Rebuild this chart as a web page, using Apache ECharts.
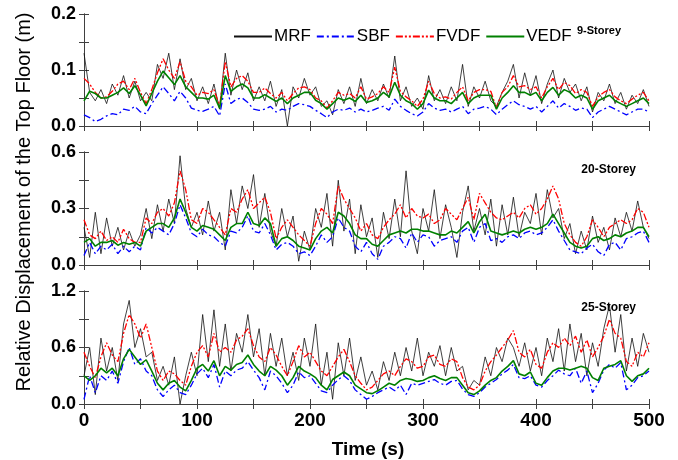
<!DOCTYPE html>
<html>
<head>
<meta charset="utf-8">
<script src="https://cdn.jsdelivr.net/npm/echarts@6/dist/echarts.min.js"></script>
<style>
  html, body { margin: 0; padding: 0; background: #fff; }
  #chart { width: 678px; height: 460px; }
</style>
</head>
<body>
<div id="chart"></div>
<script>
// sample times (s)
const times = [0,5,10,15,20,25,30,35,40,45,50,55,60,65,70,75,80,85,90,95,
  100,105,110,115,120,125,130,135,140,145,150,155,160,165,170,175,180,185,190,195,
  200,205,210,215,220,225,230,235,240,245,250,255,260,265,270,275,280,285,290,295,
  300,305,310,315,320,325,330,335,340,345,350,355,360,365,370,375,380,385,390,395,
  400,405,410,415,420,425,430,435,440,445,450,455,460,465,470,475,480,485,490,495,500];

// 9-Storey
const mrf9 = [0.130,0.060,0.045,0.065,0.040,0.075,0.055,0.090,0.050,0.080,0.045,0.060,0.045,0.110,0.085,0.130,0.065,0.120,0.065,0.085,
  0.045,0.070,0.040,0.075,0.030,0.130,0.055,0.100,0.065,0.095,0.045,0.070,0.045,0.080,0.035,0.065,0.000,0.070,0.050,0.085,
  0.055,0.070,0.035,0.045,0.020,0.065,0.040,0.070,0.035,0.085,0.040,0.065,0.045,0.075,0.050,0.125,0.045,0.070,0.035,0.050,
  0.030,0.090,0.045,0.065,0.040,0.070,0.045,0.110,0.035,0.070,0.050,0.080,0.045,0.035,0.060,0.080,0.110,0.050,0.095,0.055,
  0.090,0.040,0.075,0.100,0.050,0.085,0.060,0.075,0.045,0.070,0.025,0.060,0.045,0.075,0.040,0.060,0.030,0.055,0.040,0.065,0.035];
const sbf9 = [0.020,0.015,0.008,0.012,0.018,0.022,0.020,0.030,0.028,0.035,0.025,0.022,0.040,0.055,0.070,0.058,0.045,0.062,0.050,0.032,
  0.028,0.026,0.030,0.035,0.018,0.075,0.040,0.048,0.050,0.042,0.030,0.028,0.030,0.035,0.025,0.030,0.028,0.035,0.040,0.038,
  0.035,0.028,0.022,0.015,0.025,0.030,0.028,0.032,0.025,0.030,0.025,0.028,0.032,0.035,0.028,0.048,0.035,0.028,0.022,0.018,
  0.025,0.040,0.032,0.028,0.030,0.025,0.030,0.035,0.022,0.030,0.032,0.035,0.030,0.020,0.030,0.038,0.045,0.038,0.035,0.030,
  0.035,0.025,0.035,0.045,0.032,0.040,0.035,0.028,0.032,0.030,0.015,0.025,0.030,0.035,0.030,0.025,0.020,0.025,0.030,0.030,0.025];
const fvdf9 = [0.085,0.075,0.060,0.050,0.052,0.062,0.075,0.080,0.065,0.085,0.060,0.040,0.065,0.095,0.120,0.100,0.085,0.115,0.080,0.070,
  0.055,0.060,0.058,0.065,0.035,0.115,0.070,0.085,0.090,0.080,0.060,0.060,0.068,0.058,0.050,0.060,0.045,0.058,0.068,0.070,
  0.065,0.050,0.045,0.032,0.045,0.060,0.055,0.058,0.050,0.070,0.048,0.052,0.058,0.070,0.060,0.105,0.062,0.052,0.045,0.035,
  0.048,0.080,0.058,0.050,0.052,0.048,0.060,0.070,0.045,0.060,0.065,0.065,0.062,0.032,0.060,0.070,0.090,0.070,0.072,0.065,
  0.070,0.050,0.070,0.085,0.065,0.078,0.072,0.058,0.065,0.060,0.035,0.052,0.060,0.065,0.052,0.045,0.040,0.048,0.055,0.060,0.045];
const vedf9 = [0.045,0.062,0.058,0.050,0.050,0.055,0.060,0.068,0.058,0.072,0.055,0.036,0.058,0.080,0.098,0.086,0.074,0.090,0.070,0.060,
  0.050,0.050,0.048,0.055,0.032,0.090,0.062,0.070,0.075,0.068,0.050,0.050,0.056,0.050,0.044,0.050,0.040,0.050,0.055,0.060,
  0.060,0.046,0.040,0.030,0.040,0.050,0.046,0.050,0.044,0.055,0.042,0.045,0.050,0.060,0.052,0.078,0.055,0.045,0.040,0.030,
  0.040,0.064,0.050,0.045,0.045,0.040,0.050,0.060,0.040,0.050,0.055,0.055,0.055,0.030,0.050,0.060,0.072,0.060,0.060,0.055,
  0.060,0.045,0.060,0.069,0.055,0.065,0.060,0.050,0.055,0.050,0.030,0.045,0.050,0.055,0.045,0.040,0.035,0.040,0.045,0.050,0.040];

// 20-Storey
const mrf20 = [0.20,0.04,0.28,0.06,0.25,0.10,0.20,0.08,0.18,0.10,0.16,0.30,0.14,0.32,0.18,0.35,0.22,0.58,0.30,0.20,
  0.28,0.16,0.34,0.18,0.28,0.08,0.40,0.22,0.42,0.30,0.48,0.20,0.38,0.18,0.10,0.30,0.15,0.26,0.02,0.18,
  0.08,0.30,0.20,0.38,0.10,0.45,0.18,0.35,0.06,0.32,0.15,0.25,0.04,0.28,0.14,0.35,0.15,0.50,0.18,0.06,
  0.30,0.18,0.40,0.14,0.32,0.20,0.04,0.28,0.42,0.18,0.30,0.16,0.35,0.10,0.32,0.16,0.36,0.15,0.28,0.22,
  0.38,0.16,0.40,0.25,0.30,0.14,0.22,0.06,0.18,0.08,0.26,0.12,0.20,0.08,0.25,0.15,0.28,0.18,0.34,0.20,0.14];
const sbf20 = [0.05,0.12,0.06,0.10,0.08,0.11,0.06,0.10,0.07,0.10,0.08,0.20,0.17,0.20,0.18,0.16,0.22,0.32,0.25,0.17,
  0.15,0.19,0.16,0.15,0.12,0.10,0.18,0.17,0.20,0.26,0.18,0.17,0.22,0.16,0.08,0.11,0.12,0.10,0.06,0.07,
  0.05,0.10,0.16,0.12,0.15,0.25,0.20,0.18,0.10,0.07,0.12,0.06,0.03,0.10,0.12,0.15,0.14,0.09,0.17,0.12,
  0.16,0.15,0.10,0.13,0.14,0.15,0.12,0.18,0.20,0.12,0.20,0.22,0.13,0.14,0.12,0.15,0.16,0.14,0.17,0.18,
  0.16,0.17,0.20,0.24,0.18,0.13,0.08,0.07,0.06,0.09,0.11,0.07,0.05,0.11,0.12,0.08,0.14,0.15,0.17,0.18,0.12];
const fvdf20 = [0.24,0.16,0.14,0.18,0.13,0.15,0.12,0.19,0.14,0.12,0.12,0.25,0.22,0.28,0.30,0.26,0.33,0.50,0.40,0.24,
  0.22,0.30,0.28,0.24,0.20,0.16,0.30,0.28,0.35,0.40,0.30,0.33,0.36,0.28,0.14,0.20,0.24,0.20,0.16,0.13,
  0.10,0.22,0.30,0.27,0.22,0.42,0.35,0.30,0.25,0.18,0.22,0.16,0.14,0.20,0.24,0.27,0.32,0.25,0.30,0.26,
  0.25,0.27,0.22,0.24,0.30,0.27,0.24,0.30,0.36,0.24,0.38,0.33,0.28,0.25,0.24,0.26,0.28,0.25,0.30,0.32,
  0.27,0.30,0.35,0.42,0.35,0.22,0.16,0.12,0.10,0.15,0.24,0.20,0.15,0.20,0.22,0.24,0.22,0.24,0.30,0.28,0.20];
const vedf20 = [0.12,0.14,0.10,0.12,0.12,0.13,0.105,0.12,0.11,0.12,0.10,0.18,0.20,0.22,0.22,0.20,0.25,0.35,0.28,0.20,
  0.18,0.21,0.20,0.19,0.16,0.13,0.20,0.22,0.22,0.28,0.22,0.21,0.25,0.22,0.10,0.14,0.15,0.13,0.10,0.09,
  0.08,0.14,0.18,0.20,0.17,0.28,0.26,0.22,0.16,0.14,0.14,0.11,0.10,0.13,0.16,0.17,0.18,0.17,0.19,0.19,
  0.18,0.18,0.17,0.16,0.16,0.18,0.17,0.20,0.23,0.17,0.23,0.27,0.18,0.17,0.16,0.17,0.18,0.17,0.19,0.20,
  0.19,0.20,0.22,0.27,0.22,0.17,0.12,0.10,0.09,0.10,0.14,0.15,0.13,0.14,0.16,0.15,0.17,0.18,0.20,0.20,0.15];

// 25-Storey
const mrf25 = [0.30,0.60,0.10,0.70,0.35,0.60,0.25,0.85,1.10,0.60,0.80,0.50,0.55,0.25,0.40,0.20,0.50,0.00,0.30,0.55,
  0.30,0.95,0.45,1.00,0.40,0.85,0.35,0.75,0.55,0.95,0.50,0.80,0.30,0.75,0.40,0.70,0.30,0.55,0.25,0.70,
  0.40,0.85,0.20,0.55,0.05,0.65,0.30,0.70,0.25,0.50,0.20,0.35,0.15,0.45,0.25,0.55,0.30,0.60,0.35,0.70,
  0.30,0.55,0.40,0.62,0.30,0.60,0.35,0.40,0.15,0.25,0.20,0.50,0.30,0.60,0.45,0.70,0.60,0.40,0.65,0.35,
  0.60,0.30,0.70,0.45,0.80,0.35,0.85,0.45,0.75,0.30,0.65,0.40,0.80,1.05,0.55,0.95,0.35,0.70,0.40,0.75,0.55];
const sbf25 = [0.05,0.30,0.12,0.30,0.25,0.35,0.22,0.45,0.60,0.42,0.48,0.35,0.30,0.15,0.08,0.15,0.20,0.12,0.10,0.20,
  0.32,0.38,0.28,0.42,0.18,0.35,0.30,0.36,0.38,0.45,0.36,0.28,0.15,0.35,0.30,0.22,0.12,0.20,0.34,0.28,
  0.30,0.22,0.14,0.12,0.20,0.26,0.30,0.25,0.15,0.10,0.05,0.08,0.12,0.15,0.18,0.14,0.20,0.10,0.22,0.20,
  0.22,0.24,0.26,0.22,0.20,0.24,0.25,0.16,0.10,0.08,0.12,0.18,0.22,0.26,0.32,0.36,0.42,0.28,0.27,0.30,
  0.20,0.18,0.25,0.30,0.36,0.32,0.30,0.38,0.22,0.35,0.12,0.22,0.36,0.42,0.38,0.44,0.15,0.20,0.28,0.30,0.35];
const fvdf25 = [0.55,0.40,0.28,0.50,0.65,0.52,0.45,0.75,0.95,0.85,0.70,0.85,0.60,0.35,0.25,0.35,0.32,0.25,0.20,0.40,
  0.55,0.62,0.50,0.75,0.55,0.60,0.55,0.68,0.72,0.80,0.62,0.50,0.45,0.60,0.52,0.40,0.30,0.45,0.62,0.50,
  0.55,0.45,0.35,0.30,0.40,0.50,0.58,0.45,0.30,0.22,0.15,0.18,0.25,0.32,0.35,0.30,0.40,0.48,0.45,0.38,
  0.40,0.50,0.52,0.42,0.40,0.48,0.45,0.28,0.18,0.15,0.20,0.35,0.45,0.52,0.60,0.68,0.78,0.55,0.50,0.58,
  0.42,0.38,0.55,0.65,0.60,0.70,0.62,0.72,0.55,0.68,0.50,0.60,0.72,0.90,0.75,0.70,0.45,0.40,0.55,0.50,0.65];
const vedf25 = [0.30,0.25,0.30,0.38,0.33,0.38,0.30,0.48,0.58,0.50,0.42,0.47,0.35,0.22,0.15,0.22,0.25,0.18,0.14,0.25,
  0.38,0.42,0.35,0.46,0.30,0.40,0.36,0.42,0.44,0.52,0.42,0.35,0.30,0.40,0.36,0.30,0.20,0.28,0.40,0.35,
  0.32,0.28,0.20,0.15,0.26,0.30,0.34,0.30,0.20,0.16,0.12,0.11,0.14,0.18,0.22,0.20,0.25,0.27,0.26,0.24,
  0.25,0.28,0.30,0.27,0.25,0.28,0.28,0.20,0.12,0.10,0.14,0.20,0.25,0.28,0.35,0.40,0.46,0.32,0.30,0.34,
  0.22,0.20,0.28,0.35,0.38,0.38,0.36,0.38,0.40,0.38,0.28,0.25,0.38,0.40,0.42,0.46,0.30,0.24,0.30,0.32,0.38];

const seriesNames = ['MRF', 'SBF', 'FVDF', 'VEDF'];
const panels = [
  { label: '9-Storey', max: 0.2, data: [mrf9, sbf9, fvdf9, vedf9] },
  { label: '20-Storey', max: 0.6, data: [mrf20, sbf20, fvdf20, vedf20] },
  { label: '25-Storey', max: 1.2, data: [mrf25, sbf25, fvdf25, vedf25] }
];

const gridTops = [14, 152, 291];
const gridHeights = [112, 113, 113];
const frameColor = '#404040';
const fontFam = '"Liberation Sans", Arial, sans-serif';
const lineStyles = [
  { color: '#111111', width: 0.8, type: 'solid' },
  { color: '#0000ff', width: 1.3, type: [7, 3, 2, 3] },
  { color: '#ff0000', width: 1.3, type: [7, 2, 2, 2, 2, 2] },
  { color: '#008000', width: 1.6, type: 'solid' }
];

function renderChart() {
  const chart = echarts.init(document.getElementById('chart'), null, { renderer: 'canvas' });

  const grid = [], xAxis = [], yAxis = [], series = [];

  panels.forEach((p, g) => {
    grid.push({ left: 84, right: 29, top: gridTops[g], height: gridHeights[g] });

    const tick = { show: true, inside: true, length: 5, lineStyle: { color: frameColor } };
    const line = { show: true, lineStyle: { color: frameColor, width: 1 } };

    // bottom + top x axes
    xAxis.push({
      type: 'value', gridIndex: g, min: 0, max: 500, interval: 50,
      axisLine: line, axisTick: tick, splitLine: { show: false },
      axisLabel: {
        show: g === 2, margin: 7, color: '#000', fontSize: 19, fontWeight: 'bold',
        fontFamily: fontFam,
        formatter: v => (v % 100 === 0 ? String(v) : '')
      }
    });
    xAxis.push({
      type: 'value', gridIndex: g, position: 'top', min: 0, max: 500, interval: 50,
      axisLine: line, axisTick: tick, splitLine: { show: false }, axisLabel: { show: false }
    });

    // left + right y axes
    const step = p.max / 4;
    yAxis.push({
      type: 'value', gridIndex: g, min: 0, max: p.max, interval: step,
      axisLine: line, axisTick: tick, splitLine: { show: false },
      axisLabel: {
        margin: 8, color: '#000', fontSize: 18, fontWeight: 'bold',
        fontFamily: fontFam,
        formatter: v => (Math.round(v / step) % 2 === 0 ? v.toFixed(1) : '')
      }
    });
    yAxis.push({
      type: 'value', gridIndex: g, position: 'right', min: 0, max: p.max, interval: step,
      axisLine: line, axisTick: tick, splitLine: { show: false }, axisLabel: { show: false }
    });

    p.data.forEach((vals, k) => {
      series.push({
        name: seriesNames[k],
        type: 'line',
        xAxisIndex: 2 * g,
        yAxisIndex: 2 * g,
        symbol: 'none',
        silent: true,
        animation: false,
        lineStyle: lineStyles[k],
        itemStyle: { color: lineStyles[k].color },
        data: times.map((t, i) => [t, vals[i]])
      });
    });
  });

  const option = {
    backgroundColor: '#ffffff',
    animation: false,
    grid: grid,
    xAxis: xAxis,
    yAxis: yAxis,
    legend: {
      data: seriesNames,
      left: 228,
      top: 23,
      itemWidth: 38,
      itemHeight: 16,
      itemGap: 5,
      itemStyle: { opacity: 0 },
      textStyle: { fontSize: 17, color: '#000', fontFamily: fontFam, padding: [0, 0, 0, -3] }
    },
    graphic: [
      {
        type: 'text', x: 24, y: 202, rotation: Math.PI / 2,
        style: {
          text: 'Relative Displacement of the Top Floor (m)',
          align: 'center', verticalAlign: 'middle',
          font: '20px ' + fontFam, fill: '#000'
        }
      },
      {
        type: 'text', x: 368, y: 450,
        style: {
          text: 'Time (s)', align: 'center', verticalAlign: 'middle',
          font: 'bold 19px ' + fontFam, fill: '#000'
        }
      },
      {
        type: 'text', x: 577, y: 31,
        style: { text: '9-Storey', align: 'left', verticalAlign: 'middle', font: 'bold 11px ' + fontFam, fill: '#000' }
      },
      {
        type: 'text', x: 636, y: 170,
        style: { text: '20-Storey', align: 'right', verticalAlign: 'middle', font: 'bold 12px ' + fontFam, fill: '#000' }
      },
      {
        type: 'text', x: 636, y: 308,
        style: { text: '25-Storey', align: 'right', verticalAlign: 'middle', font: 'bold 12px ' + fontFam, fill: '#000' }
      }
    ],
    series: series
  };

  chart.setOption(option);
}

renderChart();
</script>
</body>
</html>
